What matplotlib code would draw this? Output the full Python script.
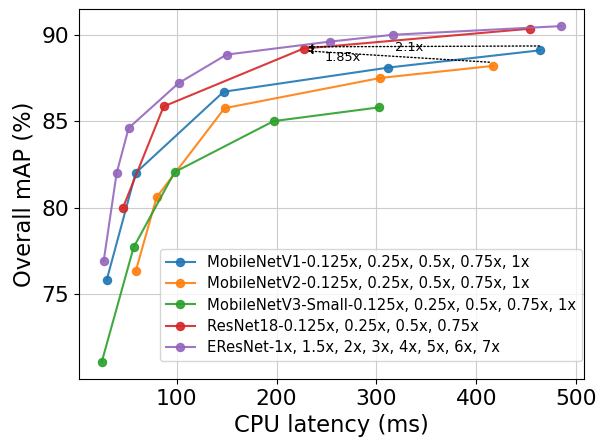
import matplotlib
matplotlib.use('Agg')
from matplotlib import pyplot as plt

# latency (ms) / mAP (%)
v1_lat = [30, 59, 147, 312, 464]
v1_map = [75.8, 82.0, 86.7, 88.1, 89.1]
v2_lat = [59, 80, 148, 304, 417]
v2_map = [76.3, 80.6, 85.75, 87.5, 88.2]
v3_lat = [25, 57, 98, 197, 303]
v3_map = [71.05, 77.7, 82.05, 85.0, 85.8]
r18_lat = [46, 87, 227, 454]
r18_map = [79.95, 85.85, 89.2, 90.35]
eres_lat = [27, 40, 52, 102, 150, 253, 317, 485]
eres_map = [76.9, 82.0, 84.6, 87.2, 88.85, 89.6, 90.0, 90.5]

labels = [
    'MobileNetV1-0.125x, 0.25x, 0.5x, 0.75x, 1x',
    'MobileNetV2-0.125x, 0.25x, 0.5x, 0.75x, 1x',
    'MobileNetV3-Small-0.125x, 0.25x, 0.5x, 0.75x, 1x',
    'ResNet18-0.125x, 0.25x, 0.5x, 0.75x',
    'EResNet-1x, 1.5x, 2x, 3x, 4x, 5x, 6x, 7x',
]

fig = plt.figure(figsize=(6.03, 4.40), dpi=100)
ax = fig.add_axes([0.1305, 0.1386, 0.8385, 0.8403])

series = [(v1_lat, v1_map), (v2_lat, v2_map), (v3_lat, v3_map),
          (r18_lat, r18_map), (eres_lat, eres_map)]
for (lat, mp), lab in zip(series, labels):
    ax.plot(lat, mp, marker='o', markersize=5.8, linewidth=1.5, label=lab, alpha=0.9)

# speedup arrows
arrow = dict(arrowstyle='-|>', linestyle=':', color='black', lw=1,
             mutation_scale=7, shrinkA=0, shrinkB=0)
ax.annotate('', xy=(231, 89.3), xytext=(463, 89.35), arrowprops=arrow)
ax.annotate('', xy=(231, 89.06), xytext=(413, 88.41), arrowprops=arrow)
ax.text(333, 89.25, '2.1x', fontsize=9.3, ha='center', va='center')
ax.text(266, 88.67, '1.85x', fontsize=9.3, ha='center', va='center')

ax.grid(True, color='#cccccc')
ax.set_axisbelow(True)
ax.set_xlabel('CPU latency (ms)', fontsize=16.3)
ax.set_ylabel('Overall mAP (%)', fontsize=16.3)
ax.tick_params(labelsize=15.7)
ax.set_yticks([75, 80, 85, 90])
ax.legend(loc='lower right', bbox_to_anchor=(0.995, 0.049), borderaxespad=0,
          fontsize=10.6, labelspacing=0.42)

fig.savefig('out.png', dpi=100)
